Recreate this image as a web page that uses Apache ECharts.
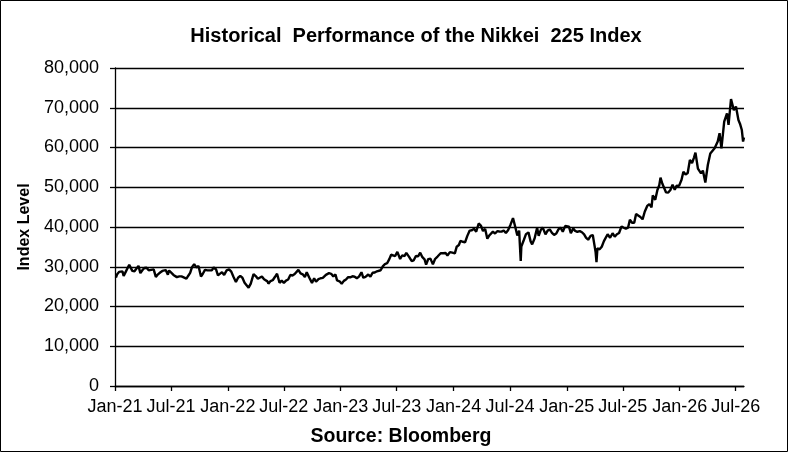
<!DOCTYPE html>
<html>
<head>
<meta charset="utf-8">
<script src="https://cdn.jsdelivr.net/npm/echarts@6/dist/echarts.min.js"></script>
<style>
  html, body { margin: 0; padding: 0; background: #fff; }
  #chart { width: 788px; height: 452px; }
</style>
</head>
<body>
<div id="chart"></div>
<script>
// closing levels
var dates = [
  '2021-01-04', '2021-01-08', '2021-01-14', '2021-01-20', '2021-01-25', '2021-01-29',
  '2021-02-05', '2021-02-10', '2021-02-16', '2021-02-22', '2021-02-26',
  '2021-03-05', '2021-03-10', '2021-03-18', '2021-03-24', '2021-03-31',
  '2021-04-06', '2021-04-13', '2021-04-20', '2021-04-26',
  '2021-05-06', '2021-05-13', '2021-05-20', '2021-05-27',
  '2021-06-03', '2021-06-14', '2021-06-21', '2021-06-25',
  '2021-07-01', '2021-07-09', '2021-07-15', '2021-07-20', '2021-07-28',
  '2021-08-04', '2021-08-10', '2021-08-20', '2021-08-26',
  '2021-09-01', '2021-09-07', '2021-09-14', '2021-09-21', '2021-09-28',
  '2021-10-06', '2021-10-12', '2021-10-19', '2021-10-27',
  '2021-11-02', '2021-11-10', '2021-11-16', '2021-11-24', '2021-11-30',
  '2021-12-06', '2021-12-13', '2021-12-20', '2021-12-28',
  '2022-01-05', '2022-01-12', '2022-01-19', '2022-01-27',
  '2022-02-03', '2022-02-10', '2022-02-17', '2022-02-24',
  '2022-03-02', '2022-03-09', '2022-03-16', '2022-03-25',
  '2022-04-01', '2022-04-08', '2022-04-14', '2022-04-21', '2022-04-28',
  '2022-05-09', '2022-05-12', '2022-05-19', '2022-05-26',
  '2022-06-02', '2022-06-09', '2022-06-17', '2022-06-24',
  '2022-07-01', '2022-07-08', '2022-07-15', '2022-07-22', '2022-07-29',
  '2022-08-05', '2022-08-17', '2022-08-24', '2022-08-31',
  '2022-09-07', '2022-09-13', '2022-09-21', '2022-09-30',
  '2022-10-07', '2022-10-13', '2022-10-21', '2022-10-28',
  '2022-11-04', '2022-11-14', '2022-11-24',
  '2022-12-01', '2022-12-08', '2022-12-15', '2022-12-20', '2022-12-28',
  '2023-01-04', '2023-01-11', '2023-01-18', '2023-01-25',
  '2023-02-01', '2023-02-08', '2023-02-15', '2023-02-22',
  '2023-03-01', '2023-03-09', '2023-03-15', '2023-03-22', '2023-03-31',
  '2023-04-07', '2023-04-14', '2023-04-21', '2023-04-28',
  '2023-05-10', '2023-05-17', '2023-05-24', '2023-05-31',
  '2023-06-07', '2023-06-13', '2023-06-19', '2023-06-26',
  '2023-07-03', '2023-07-12', '2023-07-19', '2023-07-26',
  '2023-08-01', '2023-08-10', '2023-08-18', '2023-08-25',
  '2023-09-01', '2023-09-08', '2023-09-15', '2023-09-22', '2023-09-29',
  '2023-10-04', '2023-10-11', '2023-10-18', '2023-10-26',
  '2023-11-02', '2023-11-10', '2023-11-20', '2023-11-28',
  '2023-12-06', '2023-12-12', '2023-12-20', '2023-12-28',
  '2024-01-05', '2024-01-11', '2024-01-18', '2024-01-23', '2024-01-31',
  '2024-02-07', '2024-02-14', '2024-02-22', '2024-02-29',
  '2024-03-07', '2024-03-14', '2024-03-22', '2024-03-29',
  '2024-04-05', '2024-04-12', '2024-04-19', '2024-04-26',
  '2024-05-07', '2024-05-14', '2024-05-21', '2024-05-28',
  '2024-06-04', '2024-06-11', '2024-06-18', '2024-06-25',
  '2024-07-03', '2024-07-11', '2024-07-18', '2024-07-25', '2024-07-31',
  '2024-08-02', '2024-08-05', '2024-08-07', '2024-08-15', '2024-08-22', '2024-08-30',
  '2024-09-06', '2024-09-11', '2024-09-19', '2024-09-27',
  '2024-10-02', '2024-10-09', '2024-10-15', '2024-10-24', '2024-10-31',
  '2024-11-07', '2024-11-14', '2024-11-21', '2024-11-28',
  '2024-12-05', '2024-12-12', '2024-12-19', '2024-12-27',
  '2025-01-08', '2025-01-14', '2025-01-22', '2025-01-28',
  '2025-02-04', '2025-02-12', '2025-02-19', '2025-02-26',
  '2025-03-04', '2025-03-11', '2025-03-19', '2025-03-26', '2025-03-31',
  '2025-04-04', '2025-04-07', '2025-04-10', '2025-04-17', '2025-04-24',
  '2025-05-01', '2025-05-13', '2025-05-21', '2025-05-29',
  '2025-06-05', '2025-06-12', '2025-06-19', '2025-06-27',
  '2025-07-04', '2025-07-11', '2025-07-18', '2025-07-24', '2025-07-31',
  '2025-08-07', '2025-08-13', '2025-08-20', '2025-08-27',
  '2025-09-03', '2025-09-10', '2025-09-18', '2025-09-25',
  '2025-10-02', '2025-10-06', '2025-10-14', '2025-10-21', '2025-10-27', '2025-10-31',
  '2025-11-06', '2025-11-12', '2025-11-18', '2025-11-25',
  '2025-12-02', '2025-12-09', '2025-12-16', '2025-12-22', '2025-12-30',
  '2026-01-07', '2026-01-13', '2026-01-20', '2026-01-27',
  '2026-02-03', '2026-02-10', '2026-02-16', '2026-02-21',
  '2026-03-01', '2026-03-11', '2026-03-17', '2026-03-25',
  '2026-04-02', '2026-04-10', '2026-04-16', '2026-04-24',
  '2026-05-04', '2026-05-10', '2026-05-16', '2026-05-25',
  '2026-06-03', '2026-06-08', '2026-06-16', '2026-06-25',
  '2026-07-02', '2026-07-10', '2026-07-15', '2026-07-21', '2026-07-25', '2026-07-28'
]

var levels = [
  27258, 28139, 28698, 28523, 28822, 27663,
  28779, 29562, 30467, 30156, 28966,
  28864, 29036, 30216, 28405, 29178,
  29696, 29751, 29100, 29126,
  29331, 27448, 28098, 28549,
  28946, 29161, 28010, 29066,
  28707, 27940, 28279, 27388, 27582,
  27584, 28070, 27013, 27742,
  28451, 29916, 30670, 29839, 30183,
  27528, 28230, 29215, 29098,
  29520, 29106, 29808, 29302, 27821,
  27927, 28640, 27937, 29069,
  29332, 28765, 27467, 26170,
  27241, 27696, 27232, 25970,
  26393, 24717, 25762, 28149,
  27665, 26985, 27172, 27553, 26847,
  26319, 25748, 26402, 26604,
  27413, 28246, 25963, 26491,
  25935, 26517, 26788, 27914, 27801,
  28175, 29222, 28313, 28091,
  27430, 28614, 27313, 25937,
  27116, 26237, 26890, 27105,
  27199, 27963, 28383,
  28226, 27574, 28051, 26568, 26340,
  25716, 26446, 26791, 27395,
  27346, 27606, 27501, 27104,
  27516, 28623, 27229, 27466, 28041,
  27518, 28493, 28564, 28856,
  29122, 30093, 30682, 30887,
  31913, 33018, 33370, 32698,
  33753, 31943, 32896, 32668,
  33476, 32473, 31450, 31624,
  32710, 32606, 33533, 32402, 31857,
  30526, 31936, 32042, 30601,
  31949, 32568, 33388, 33408,
  33445, 32843, 33675, 33540,
  33377, 35049, 35466, 36517, 36286,
  36119, 37703, 39098, 39166,
  39598, 38807, 40888, 40369,
  38992, 39523, 37068, 37934,
  38835, 38356, 38946, 38855,
  38837, 39134, 38482, 39173,
  40580, 42224, 40126, 37869, 39101,
  35909, 31458, 35089, 36726, 38211, 38647,
  36391, 35619, 37155, 39829,
  37808, 39277, 39910, 38143, 39081,
  39381, 38535, 38026, 38349,
  39395, 39849, 38813, 40281,
  40083, 38474, 39646, 39016,
  38798, 38963, 38678, 38142,
  37331, 36793, 37751, 37984, 35617,
  33781, 31136, 34609, 34377, 35039,
  36452, 38183, 37299, 38432,
  37554, 38173, 38488, 40150,
  39811, 39569, 39819, 41826, 41070,
  41059, 43274, 42888, 42520,
  41938, 43837, 45303, 45755,
  44936, 47944, 46847, 49316, 50512, 52411,
  50883, 51063, 48702, 48659,
  49303, 50655, 49383, 50402, 50339,
  51900, 53900, 53200, 53600,
  56900, 56100, 57400, 58700,
  54700, 53500, 54200, 51200,
  55600, 58500, 58000, 59800,
  61500, 63600, 59800, 66500,
  68600, 65700, 72200, 69400,
  70300, 66900, 66000, 64400, 61500, 62500
]

var yTicks = [0, 10000, 20000, 30000, 40000, 50000, 60000, 70000, 80000]
var monthNames = ['Jan', 'Feb', 'Mar', 'Apr', 'May', 'Jun', 'Jul', 'Aug', 'Sep', 'Oct', 'Nov', 'Dec']

function toTime(s) {
  var p = s.split('-')
  return new Date(+p[0], +p[1] - 1, +p[2]).getTime()
}

// half-year ticks Jan-21 .. Jul-26
var xTicks = []
for (var y = 2021; y <= 2026; y++) {
  xTicks.push(new Date(y, 0, 1).getTime())
  xTicks.push(new Date(y, 6, 1).getTime())
}

var font = "'Liberation Sans', Arial, sans-serif"

var dom = document.getElementById('chart')
var myChart = echarts.init(dom)
var option = {
  backgroundColor: '#fff',
  animation: false,
  title: {
    text: 'Historical  Performance of the Nikkei  225 Index',
    left: 411,
    top: 21,
    textAlign: 'center',
    textStyle: {
      fontFamily: font,
      fontWeight: 'bold',
      fontSize: 20,
      color: '#000'
    }
  },
  grid: {
    left: 115,
    right: 44,
    top: 68,
    bottom: 66
  },
  xAxis: {
    type: 'value',
    min: toTime('2021-01-01'),
    max: toTime('2026-07-28'),
    axisLine: { show: true, lineStyle: { color: '#000', width: 1.3 } },
    axisTick: {
      show: true,
      length: 5,
      inside: false,
      customValues: xTicks,
      lineStyle: { color: '#000', width: 1.3 }
    },
    axisLabel: {
      customValues: xTicks,
      margin: 12,
      color: '#000',
      fontFamily: font,
      fontSize: 18,
      hideOverlap: false,
      showMinLabel: true,
      showMaxLabel: true,
      formatter: function (val) {
        var d = new Date(val)
        return monthNames[d.getMonth()] + '-' + String(d.getFullYear()).slice(2)
      }
    },
    splitLine: { show: false }
  },
  yAxis: {
    type: 'value',
    min: yTicks[0],
    max: yTicks[yTicks.length - 1],
    interval: 10000,
    name: 'Index Level',
    nameLocation: 'middle',
    nameGap: 78,
    nameTextStyle: {
      fontFamily: font,
      fontWeight: 'bold',
      fontSize: 16,
      color: '#000'
    },
    axisLine: { show: true, lineStyle: { color: '#000', width: 1.3 } },
    axisTick: { show: true, length: 5, lineStyle: { color: '#000', width: 1.3 } },
    axisLabel: {
      margin: 16,
      color: '#000',
      fontFamily: font,
      fontSize: 18,
      formatter: function (v) {
        return v.toLocaleString('en-US')
      }
    },
    splitLine: { show: true, lineStyle: { color: '#000', width: 1.3 } }
  },
  graphic: [
    {
      type: 'rect',
      shape: { x: 0.5, y: 0.5, width: 787, height: 451 },
      style: { fill: 'none', stroke: '#000', lineWidth: 1 },
      silent: true
    },
    {
      type: 'text',
      x: 401,
      y: 437,
      style: {
        text: 'Source: Bloomberg',
        fontFamily: font,
        fontWeight: 'bold',
        fontSize: 19.5,
        fill: '#000',
        align: 'center',
        verticalAlign: 'middle'
      }
    }
  ],
  series: [
    {
      name: 'Nikkei 225',
      type: 'line',
      showSymbol: false,
      lineStyle: { color: '#000', width: 2.4 },
      data: dates.map(function (d, i) {
        return [toTime(d), levels[i]]
      })
    }
  ]
}
if (option && typeof option === 'object') {
  myChart.setOption(option, true)
}
</script>
</body>
</html>
